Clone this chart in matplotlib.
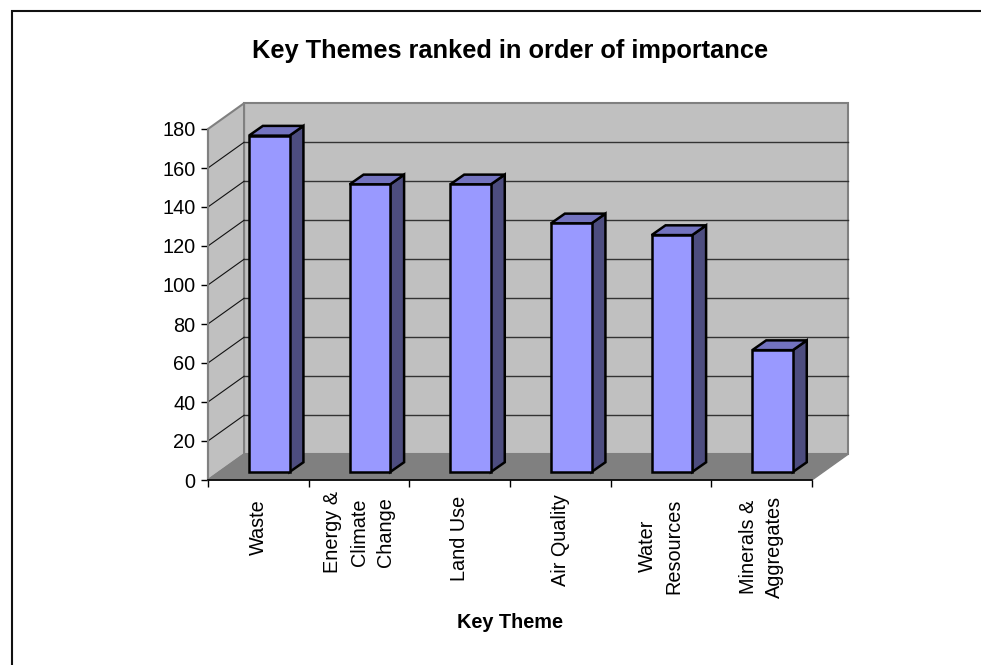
# -*- coding: utf-8 -*-
"""
Key themes bar chart, old Excel style fake 3D.
"""

import matplotlib
matplotlib.use('Agg')
import matplotlib.pyplot as plt
from matplotlib.lines import Line2D
from matplotlib.patches import Polygon

plt.rcParams['font.family'] = ['Liberation Sans', 'DejaVu Sans']

themes = ['Waste', 'Energy &\nClimate\nChange', 'Land Use', 'Air Quality',
          'Water\nResources', 'Minerals &\nAggregates']
scores = [172.5, 147.5, 147.5, 127.5, 121.5, 62.5]
y_ticks = [0, 20, 40, 60, 80, 100, 120, 140, 160, 180]

TITLE = 'Key Themes ranked in order of importance'
X_LABEL = 'Key Theme'

# depth of the box and of the bars, in data units
BOX_DX, BOX_DY = 0.358, 13.2
BAR_DX, BAR_DY = 0.138, 5.0
BAR_LIFT = 4.1
BAR_WIDTH = 0.403
BAR_INSET = 0.407

FRONT = '#9999ff'
SIDE = '#4d4d7f'
TOP = '#7373bf'
WALL = '#c0c0c0'
EDGE = '#808080'

W, H = 981, 665
fig = plt.figure(figsize=(W / 100, H / 100), dpi=100)
ax = fig.add_axes([208 / W, 1 - 480 / H, 604 / W, 351 / H])
ax.set_xlim(0, len(themes))
ax.set_ylim(y_ticks[0], y_ticks[-1])
ax.patch.set_visible(False)

y_max = y_ticks[-1]
n = len(themes)


def add_poly(pts, face, edge, lw, z):
    ax.add_patch(Polygon(pts, closed=True, facecolor=face, edgecolor=edge,
                         linewidth=lw, zorder=z, clip_on=False, joinstyle='miter'))


# walls and floor
add_poly([(BOX_DX, BOX_DY), (n + BOX_DX, BOX_DY), (n + BOX_DX, y_max + BOX_DY),
          (BOX_DX, y_max + BOX_DY)], WALL, EDGE, 1.5, 1)
add_poly([(0, 0), (BOX_DX, BOX_DY), (BOX_DX, y_max + BOX_DY), (0, y_max)],
         WALL, EDGE, 1.5, 1)
add_poly([(0, 0), (n, 0), (n + BOX_DX, BOX_DY), (BOX_DX, BOX_DY)], EDGE, EDGE, 1, 1)

# gridlines on both walls
for v in y_ticks[1:-1]:
    ax.plot([BOX_DX, n + BOX_DX], [v + BOX_DY, v + BOX_DY], color='#333333',
            lw=1, zorder=2, clip_on=False)
    ax.plot([0, BOX_DX], [v, v + BOX_DY], color='#111111',
            lw=0.8, zorder=2, clip_on=False)

# bars, front face through bar(), the depth faces on top of it
lefts = [i + BAR_INSET for i in range(n)]
ax.bar(lefts, scores, width=BAR_WIDTH, bottom=BAR_LIFT, align='edge',
       facecolor=FRONT, edgecolor='black', linewidth=1.8, zorder=4, clip_on=False)
for left, val in zip(lefts, scores):
    right = left + BAR_WIDTH
    top = BAR_LIFT + val
    add_poly([(right, BAR_LIFT), (right + BAR_DX, BAR_LIFT + BAR_DY),
              (right + BAR_DX, top + BAR_DY), (right, top)], SIDE, 'black', 1.8, 3)
    add_poly([(left, top), (right, top), (right + BAR_DX, top + BAR_DY),
              (left + BAR_DX, top + BAR_DY)], TOP, 'black', 1.8, 3)

# axes
for s in ('top', 'right'):
    ax.spines[s].set_visible(False)
ax.spines['left'].set_color(EDGE)
ax.spines['left'].set_linewidth(1.5)
ax.spines['bottom'].set_linewidth(1.2)
ax.spines['bottom'].set_zorder(6)

ax.set_yticks(y_ticks)
ax.tick_params(axis='y', length=5, width=1, labelsize=14.3, pad=4)
ax.set_xticks(range(n + 1))
ax.set_xticklabels([])
ax.tick_params(axis='x', which='major', length=5, width=1)
ax.set_xticks([i + 0.5 for i in range(n)], themes, minor=True)
ax.tick_params(axis='x', which='minor', length=0, labelsize=14.3)

# vertical middle of each label below the axis, in pixels
label_mid = [47, 52, 58, 60, 66, 67]
for tick, mid, lab in zip(ax.xaxis.get_minor_ticks(), label_mid,
                          ax.get_xticklabels(minor=True)):
    tick.set_pad(mid * 0.72)
    lab.set_rotation(90)
    lab.set_va('center')
    lab.set_ha('center')
    lab.set_multialignment('center')
    lab.set_linespacing(1.5)

ax.set_title(TITLE, fontsize=18.3, fontweight='bold', pad=51)
ax.set_xlabel(X_LABEL, fontsize=14.3, fontweight='bold', va='center')
ax.xaxis.set_label_coords(0.5, -143 / 351)

# chart area border, only left and top are inside the picture
fig.add_artist(Line2D([12 / W, 12 / W, 1], [0, 1 - 10.5 / H, 1 - 10.5 / H],
                      color='#111111', lw=1.5, transform=fig.transFigure,
                      solid_joinstyle='miter'))

fig.savefig('out.png', dpi=100)
